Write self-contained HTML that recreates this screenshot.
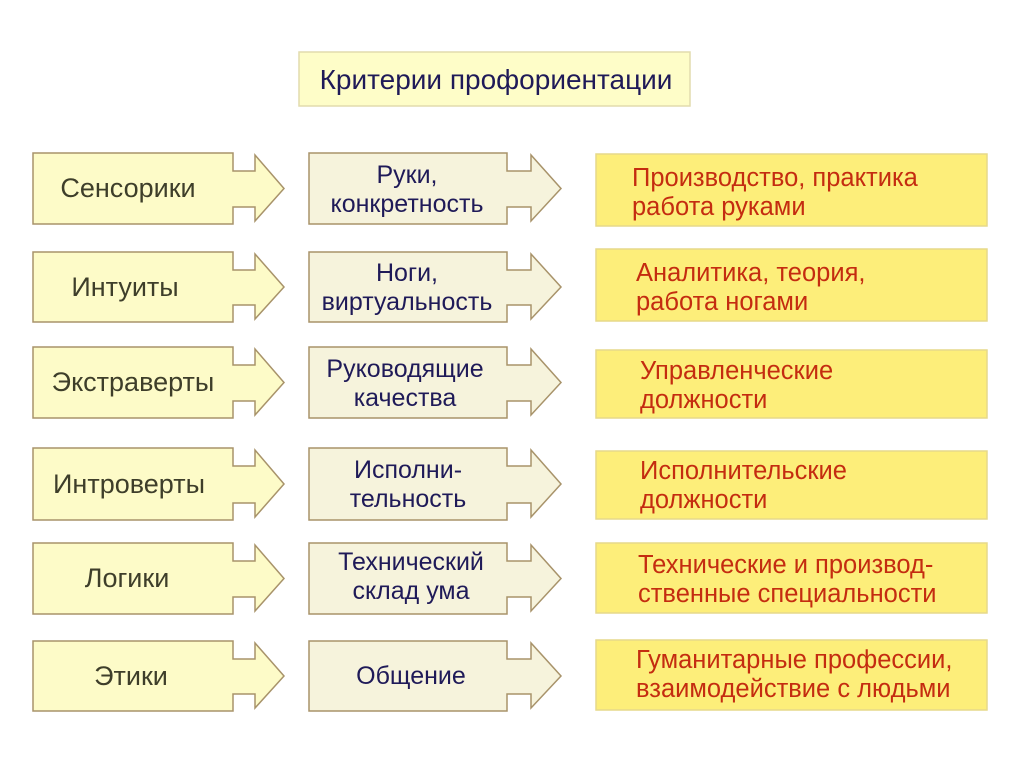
<!DOCTYPE html>
<html><head><meta charset="utf-8"><style>
html,body{margin:0;padding:0;background:#fff;}
svg{display:block;}
text{font-family:"Liberation Sans",sans-serif;}
.l{fill:#3e3e2a;font-size:27px;text-anchor:middle;}
.m{fill:#1f1a58;font-size:25px;text-anchor:middle;}
.r{fill:#c42c10;font-size:25.5px;}
.la{fill:#fdfbc8;stroke:#a8936a;stroke-width:1.5;}
.ma{fill:#f6f3dc;stroke:#a8936a;stroke-width:1.5;}
.rb{fill:#fdee7a;stroke:#e6d98a;stroke-width:1.5;}
</style></head><body>
<svg width="1024" height="767" viewBox="0 0 1024 767" xmlns="http://www.w3.org/2000/svg">
<rect x="299" y="52" width="391" height="54" fill="#fefdc8" stroke="#e2dcae" stroke-width="1.5"/>
<text x="496" y="89" font-size="28" fill="#1f1a58" text-anchor="middle">Критерии профориентации</text>

<path class="la" d="M33 153H233V171H255V155L284 188.5L255 221V207H233V224H33Z"/>
<path class="ma" d="M309 153H507V171H531V155L561 188.5L531 221V207H507V224H309Z"/>
<rect class="rb" x="596" y="154" width="391" height="72"/>
<text class="l" x="128" y="197">Сенсорики</text>
<text class="m" x="407" y="183">Руки,</text>
<text class="m" x="407" y="212">конкретность</text>
<text class="r" x="632" y="186">Производство, практика</text>
<text class="r" x="632" y="215">работа руками</text>

<path class="la" d="M33 252H233V270H255V254L284 287L255 319V305H233V322H33Z"/>
<path class="ma" d="M309 252H507V270H531V254L561 287L531 319V305H507V322H309Z"/>
<rect class="rb" x="596" y="249" width="391" height="72"/>
<text class="l" x="125" y="296">Интуиты</text>
<text class="m" x="407" y="281">Ноги,</text>
<text class="m" x="407" y="310">виртуальность</text>
<text class="r" x="636" y="281">Аналитика, теория,</text>
<text class="r" x="636" y="310">работа ногами</text>

<path class="la" d="M33 347H233V365H255V349L284 382.5L255 415V401H233V418H33Z"/>
<path class="ma" d="M309 347H507V365H531V349L561 382.5L531 415V401H507V418H309Z"/>
<rect class="rb" x="596" y="350" width="391" height="68"/>
<text class="l" x="133" y="391">Экстраверты</text>
<text class="m" x="405" y="377">Руководящие</text>
<text class="m" x="405" y="406">качества</text>
<text class="r" x="640" y="379">Управленческие</text>
<text class="r" x="640" y="408">должности</text>

<path class="la" d="M33 448H233V466H255V450L284 484L255 517V503H233V520H33Z"/>
<path class="ma" d="M309 448H507V466H531V450L561 484L531 517V503H507V520H309Z"/>
<rect class="rb" x="596" y="451" width="391" height="68"/>
<text class="l" x="129" y="493">Интроверты</text>
<text class="m" x="408" y="478">Исполни-</text>
<text class="m" x="408" y="507">тельность</text>
<text class="r" x="640" y="479">Исполнительские</text>
<text class="r" x="640" y="508">должности</text>

<path class="la" d="M33 543H233V561H255V545L284 578.5L255 611V597H233V614H33Z"/>
<path class="ma" d="M309 543H507V561H531V545L561 578.5L531 611V597H507V614H309Z"/>
<rect class="rb" x="596" y="543" width="391" height="70"/>
<text class="l" x="127" y="587">Логики</text>
<text class="m" x="411" y="570">Технический</text>
<text class="m" x="411" y="599">склад ума</text>
<text class="r" x="638" y="573">Технические и производ-</text>
<text class="r" x="638" y="602">ственные специальности</text>

<path class="la" d="M33 641H233V659H255V643L284 676L255 708V694H233V711H33Z"/>
<path class="ma" d="M309 641H507V659H531V643L561 676L531 708V694H507V711H309Z"/>
<rect class="rb" x="596" y="640" width="391" height="70"/>
<text class="l" x="131" y="685">Этики</text>
<text class="m" x="411" y="684">Общение</text>
<text class="r" x="636" y="668">Гуманитарные профессии,</text>
<text class="r" x="636" y="697">взаимодействие с людьми</text>
</svg>
</body></html>
